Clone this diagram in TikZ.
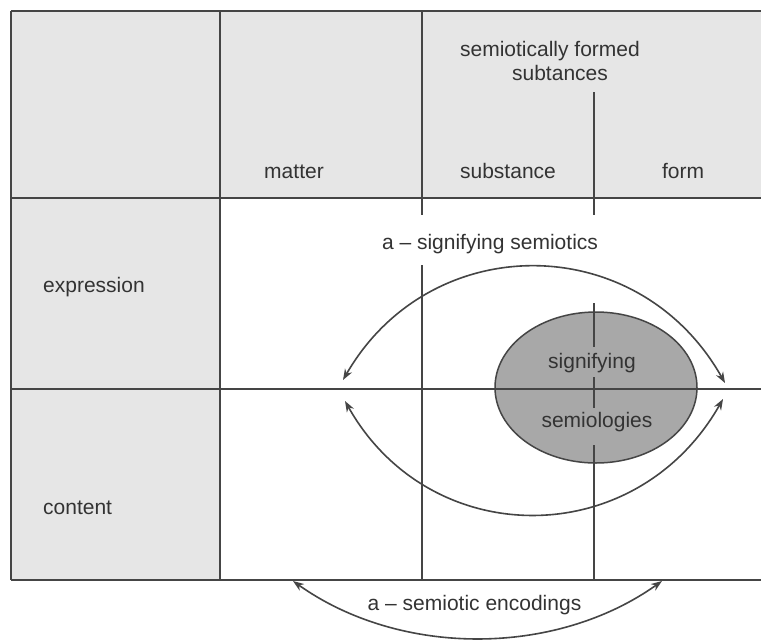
\documentclass[tikz,border=0pt]{standalone}
\usepackage{fontspec}
\setmainfont{Liberation Sans}
\usetikzlibrary{arrows.meta,shapes.geometric}
\definecolor{cellgray}{HTML}{E6E6E6}
\definecolor{ovalgray}{HTML}{A8A8A8}
\definecolor{linegray}{HTML}{454545}
\definecolor{textgray}{HTML}{333333}
\tikzset{
  gridline/.style={draw=linegray, line width=1.7pt},
  label/.style={text=textgray, inner sep=0pt, anchor=base, font=\fontsize{21}{24}\selectfont},
  leftlabel/.style={label, anchor=base west},
  twoway/.style={draw=linegray, line width=1.6pt, {Stealth[length=11pt,width=8pt]}-{Stealth[length=11pt,width=8pt]}},
}
\begin{document}
\begin{tikzpicture}[x=1pt,y=-1pt]
\useasboundingbox (0,0) rectangle (761,641);
% backgrounds
\fill[white] (0,0) rectangle (761,641);
\fill[cellgray] (11,11) rectangle (761,198);
\fill[cellgray] (11,198) rectangle (220,580);
% oval
\node[draw=linegray, line width=1.5pt, fill=ovalgray, ellipse, minimum width=202pt, minimum height=151pt, inner sep=0pt] (oval) at (596,387.5) {};
% grid lines
\draw[gridline] (11,11) -- (761,11);
\draw[gridline] (11,198) -- (761,198);
\draw[gridline] (11,389) -- (761,389);
\draw[gridline] (11,580) -- (761,580);
\draw[gridline] (11,11) -- (11,580);
\draw[gridline] (220,11) -- (220,580);
\draw[gridline] (422,11) -- (422,215);
\draw[gridline] (422,265) -- (422,580);
\draw[gridline] (594,92) -- (594,215);
\draw[gridline] (594,303) -- (594,347);
\draw[gridline] (594,377) -- (594,408);
\draw[gridline] (594,445) -- (594,580);
% texts
\node[label] (sf1) at (550,56.5) {semiotically formed};
\node[label] (sf2) at (560,80.5) {subtances};
\node[label] (matter) at (294,178.5) {matter};
\node[label] (substance) at (508,178.5) {substance};
\node[label] (form) at (683,178.5) {form};
\node[leftlabel] (expression) at (43,292) {expression};
\node[leftlabel] (content) at (43,514.5) {content};
\node[label] (asig) at (490,249.5) {a -- signifying semiotics};
\node[label] (signifying) at (592,368) {signifying};
\node[label] (semiologies) at (597,427) {semiologies};
\node[label] (aenc) at (474.5,610.5) {a -- semiotic encodings};
% arrow endpoints
\coordinate (tl) at (343,380);
\coordinate (tr) at (725,383);
\coordinate (bl) at (345,401);
\coordinate (br) at (723,399);
\coordinate (el) at (293,581);
\coordinate (er) at (662,581);
% arcs
\draw[twoway] (tl) .. controls (430,229) and (638,229) .. (tr);
\draw[twoway] (bl) .. controls (430,552) and (636,552) .. (br);
\draw[twoway] (el) .. controls (400,657) and (555,657) .. (er);
\end{tikzpicture}
\end{document}
